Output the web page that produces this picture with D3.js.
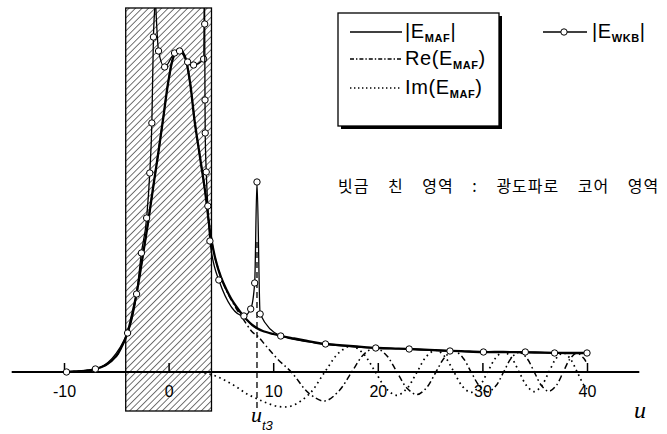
<!DOCTYPE html>
<html>
<head>
<meta charset="utf-8">
<script src="https://cdn.jsdelivr.net/npm/d3@7"></script>
<style>
  body { margin: 0; background: #fff; }
  svg { display: block; }
  text { font-family: 'Liberation Sans', Arial, sans-serif; fill: #000; }
</style>
</head>
<body>
<svg id="chart" width="667" height="434"></svg>
<script>
// values: u on x, field amplitude (arbitrary units) on y
const xTicks = [-10, 0, 10, 20, 30, 40]
const coreRange = [-4.1, 4.1]
const uT3 = 8.45

const magMAF = [
  [-10, 0], [-9, 0.005], [-8, 0.012], [-7, 0.03], [-6, 0.07], [-5, 0.16], [-4.5, 0.25],
  [-4, 0.37], [-3.5, 0.57], [-3, 0.82], [-2.5, 1.14], [-2, 1.47], [-1.5, 1.83], [-1, 2.18],
  [-0.5, 2.55], [0, 2.92], [0.5, 3.16], [1, 3.23], [1.5, 3.17], [2, 2.93], [2.5, 2.5],
  [3, 2.15], [3.5, 1.8], [4, 1.38], [4.5, 1.12], [5, 0.95], [5.5, 0.83], [6, 0.73],
  [6.5, 0.65], [7, 0.58], [7.5, 0.52], [8, 0.47], [8.5, 0.435], [9, 0.41], [10, 0.38],
  [11, 0.355], [12, 0.335], [13, 0.315], [14, 0.295], [15, 0.28], [16, 0.272], [18, 0.255],
  [20, 0.24], [22, 0.233], [24, 0.225], [26, 0.215], [28, 0.208], [30, 0.2], [32, 0.2],
  [34, 0.197], [36, 0.193], [38, 0.19], [40, 0.19]
]

const reMAF = [
  [-10, 0], [-9, 0.005], [-8, 0.012], [-7, 0.03], [-6, 0.07], [-5, 0.16], [-4.5, 0.25],
  [-4, 0.37], [-3.5, 0.57], [-3, 0.82], [-2.5, 1.14], [-2, 1.47], [-1.5, 1.83], [-1, 2.18],
  [-0.5, 2.55], [0, 2.92], [0.5, 3.16], [1, 3.23], [1.5, 3.17], [2, 2.93], [2.5, 2.5],
  [3, 2.15], [3.5, 1.8], [4, 1.38], [4.5, 1.12], [5, 0.95], [5.5, 0.82], [6, 0.72],
  [6.5, 0.63], [7, 0.55], [7.5, 0.47], [8, 0.4], [8.5, 0.36], [9.4, 0.25], [10.5, 0.12],
  [11.73, 0], [13.45, -0.216], [14.93, -0.29], [16.27, -0.191], [17.51, 0], [18.67, 0.177],
  [19.77, 0.24], [20.82, 0.168], [21.83, 0], [22.8, -0.163], [23.75, -0.226], [24.66, -0.157],
  [25.56, 0], [26.43, 0.151], [27.28, 0.21], [28.11, 0.146], [28.92, 0], [29.72, -0.141],
  [30.5, -0.2], [31.27, -0.141], [32.03, 0], [32.78, 0.141], [33.51, 0.198], [34.24, 0.139],
  [34.96, 0], [35.66, -0.138], [36.36, -0.193], [37.05, -0.136], [37.73, 0], [38.39, 0.134],
  [39.06, 0.19], [39.71, 0.134], [40, 0.083]
]

const imMAF = [
  [-10, 0], [0, 0], [2.5, 0], [3.5, -0.01], [4.5, -0.04], [5.5, -0.09], [6.5, -0.15],
  [7.5, -0.22], [8.5, -0.27], [9.4, -0.31], [10.5, -0.345], [11.73, -0.34], [13.45, -0.22],
  [14.93, 0], [16.27, 0.191], [17.51, 0.26], [18.67, 0.177], [19.77, 0], [20.82, -0.168],
  [21.83, -0.233], [22.8, -0.163], [23.75, 0], [24.66, 0.157], [25.56, 0.218], [26.43, 0.151],
  [27.28, 0], [28.11, -0.146], [28.92, -0.204], [29.72, -0.141], [30.5, 0], [31.27, 0.141],
  [32.03, 0.2], [32.78, 0.141], [33.51, 0], [34.24, -0.139], [34.96, -0.196], [35.66, -0.138],
  [36.36, 0], [37.05, 0.136], [37.73, 0.191], [38.39, 0.134], [39.06, 0], [39.71, -0.134],
  [40, -0.17]
]

// WKB solution, split at the turning points where it blows up
const wkbLeft = [
  [-9.76, 0], [-7, 0.03], [-3.92, 0.39], [-3.06, 0.78], [-2.6, 1.19], [-2.1, 1.54],
  [-1.8, 1.99], [-1.6, 2.49], [-1.45, 3.35], [-1.32, 3.64]
]
const wkbMid = [
  [-1.22, 3.64], [-0.96, 3.21], [-0.38, 3.05], [0.57, 3.19], [1.05, 3.21], [1.82, 3.1],
  [2.39, 3.07], [3.35, 3.13], [3.4, 3.64]
]
const wkbRight = [
  [3.44, 3.64], [3.45, 3.48], [3.48, 2.72], [3.5, 2.39], [3.6, 2.0], [3.75, 1.66],
  [3.95, 1.31], [4.8, 0.92], [7.2, 0.56], [7.85, 0.63], [8.23, 0.89], [8.45, 1.9],
  [8.75, 0.58], [10.72, 0.36], [15, 0.28], [19.8, 0.24], [23, 0.23], [26.9, 0.21],
  [30.1, 0.2], [34.1, 0.2], [36.9, 0.19], [40, 0.19]
]

const svg = d3.select('#chart')
svg.append('rect').attr('width', 667).attr('height', 434).attr('fill', '#fff')

const x = d3.scaleLinear().domain([-10, 40]).range([64, 587])
const y = d3.scaleLinear().domain([-0.4, 3.64]).range([412, 8])
const yTop = y.domain()[1]

// hatched core region
const pat = svg.append('defs').append('pattern')
  .attr('id', 'hatch')
  .attr('patternUnits', 'userSpaceOnUse')
  .attr('width', 4.6).attr('height', 4.6)
  .attr('patternTransform', 'rotate(45)')
pat.append('line')
  .attr('x1', 0).attr('y1', 0).attr('x2', 0).attr('y2', 4.6)
  .attr('stroke', '#000').attr('stroke-width', 1.1)

svg.append('rect')
  .attr('x', x(coreRange[0]))
  .attr('y', y(yTop))
  .attr('width', x(coreRange[1]) - x(coreRange[0]))
  .attr('height', y(-0.39) - y(yTop))
  .attr('fill', 'url(#hatch)')
  .attr('stroke', '#000')
  .attr('stroke-width', 1.3)

// axis
svg.append('line')
  .attr('x1', x(-15)).attr('x2', x(45))
  .attr('y1', y(0)).attr('y2', y(0))
  .attr('stroke', '#000').attr('stroke-width', 2)

const ax = svg.append('g')
  .attr('transform', `translate(0,${y(0)})`)
  .call(d3.axisBottom(x).tickValues(xTicks).tickFormat(d => String(d))
    .tickSizeInner(-9).tickSizeOuter(0).tickPadding(14))
ax.select('.domain').remove()
ax.selectAll('.tick line').attr('stroke', '#000').attr('stroke-width', 1.5)
ax.selectAll('.tick text')
  .attr('font-family', "'Liberation Sans', Arial, sans-serif")
  .attr('font-size', 16)
  .attr('fill', '#000')

// curves
const line = d3.line().x(d => x(d[0])).y(d => y(d[1]))

svg.append('path')
  .attr('fill', 'none').attr('stroke', '#000').attr('stroke-width', 1.7)
  .attr('stroke-dasharray', '1.6,3.6')
  .attr('d', line.curve(d3.curveCatmullRom)(imMAF))

svg.append('path')
  .attr('fill', 'none').attr('stroke', '#000').attr('stroke-width', 1.5)
  .attr('stroke-dasharray', '6,3,1.6,3')
  .attr('d', line.curve(d3.curveCatmullRom)(reMAF))

svg.append('path')
  .attr('fill', 'none').attr('stroke', '#000').attr('stroke-width', 2.3)
  .attr('d', line.curve(d3.curveCatmullRom)(magMAF))

// turning point marker
svg.append('line')
  .attr('x1', x(uT3)).attr('x2', x(uT3))
  .attr('y1', y(1.3)).attr('y2', y(-0.37))
  .attr('stroke', '#000').attr('stroke-width', 1.3)
  .attr('stroke-dasharray', '6,4')

const wkb = svg.append('g')
;[wkbLeft, wkbMid, wkbRight].forEach(branch => {
  wkb.append('path')
    .attr('fill', 'none').attr('stroke', '#000').attr('stroke-width', 1.3)
    .attr('d', line.curve(d3.curveMonotoneX)(branch))
  wkb.selectAll(null)
    .data(branch.filter(d => d[1] < yTop - 0.05))
    .join('circle')
    .attr('cx', d => x(d[0]))
    .attr('cy', d => y(d[1]))
    .attr('r', 3.2)
    .attr('fill', '#fff')
    .attr('stroke', '#000')
    .attr('stroke-width', 1)
})

// axis labels
svg.append('text')
  .attr('x', 640).attr('y', 418)
  .attr('text-anchor', 'middle')
  .style('font-family', "'Liberation Serif', 'Times New Roman', serif")
  .style('font-style', 'italic')
  .attr('font-size', 24)
  .text('u')

const ut = svg.append('text')
  .attr('x', x(uT3) - 6).attr('y', 422)
  .style('font-family', "'Liberation Serif', 'Times New Roman', serif")
  .style('font-style', 'italic')
  .attr('font-size', 22)
ut.append('tspan').text('u')
ut.append('tspan')
  .attr('dy', 8).attr('font-size', 13)
  .style('font-family', "'Liberation Sans', Arial, sans-serif")
  .text('t3')

// legend box with drop shadow
svg.append('rect').attr('x', 341).attr('y', 16).attr('width', 161).attr('height', 113).attr('fill', '#000')
svg.append('rect').attr('x', 338).attr('y', 13).attr('width', 161).attr('height', 113)
  .attr('fill', '#fff').attr('stroke', '#000').attr('stroke-width', 1.3)

const legendRows = [
  { y: 32, dash: null, pre: '|E', sub: 'MAF', post: '|' },
  { y: 59, dash: '4,2,1.4,2', pre: 'Re(E', sub: 'MAF', post: ')' },
  { y: 88, dash: '1.4,2.6', pre: 'Im(E', sub: 'MAF', post: ')' }
]
legendRows.forEach(r => {
  svg.append('line')
    .attr('x1', 350).attr('x2', 402).attr('y1', r.y).attr('y2', r.y)
    .attr('stroke', '#000').attr('stroke-width', 1.4)
    .attr('stroke-dasharray', r.dash)
  const t = svg.append('text').attr('x', 405).attr('y', r.y + 6)
    .attr('font-size', 20).attr('letter-spacing', 0.6)
  t.append('tspan').text(r.pre)
  t.append('tspan').attr('dy', 4).attr('font-size', 11).attr('font-weight', 'bold').text(r.sub)
  t.append('tspan').attr('dy', -4).text(r.post)
})

// WKB legend outside box
svg.append('line').attr('x1', 543).attr('x2', 587).attr('y1', 32).attr('y2', 32)
  .attr('stroke', '#000').attr('stroke-width', 1.3)
svg.append('circle').attr('cx', 564).attr('cy', 32).attr('r', 3.2)
  .attr('fill', '#fff').attr('stroke', '#000')
const tw = svg.append('text').attr('x', 592).attr('y', 38)
  .attr('font-size', 20).attr('letter-spacing', 0.6)
tw.append('tspan').text('|E')
tw.append('tspan').attr('dy', 4).attr('font-size', 11).attr('font-weight', 'bold').text('WKB')
tw.append('tspan').attr('dy', -4).text('|')

// annotation
svg.append('text')
  .attr('x', 338).attr('y', 192)
  .style('font-family', "'Noto Sans CJK KR', sans-serif")
  .style('word-spacing', '14px')
  .attr('font-size', 16)
  .attr('letter-spacing', 1)
  .text('빗금 친 영역 : 광도파로 코어 영역')
</script>
</body>
</html>
